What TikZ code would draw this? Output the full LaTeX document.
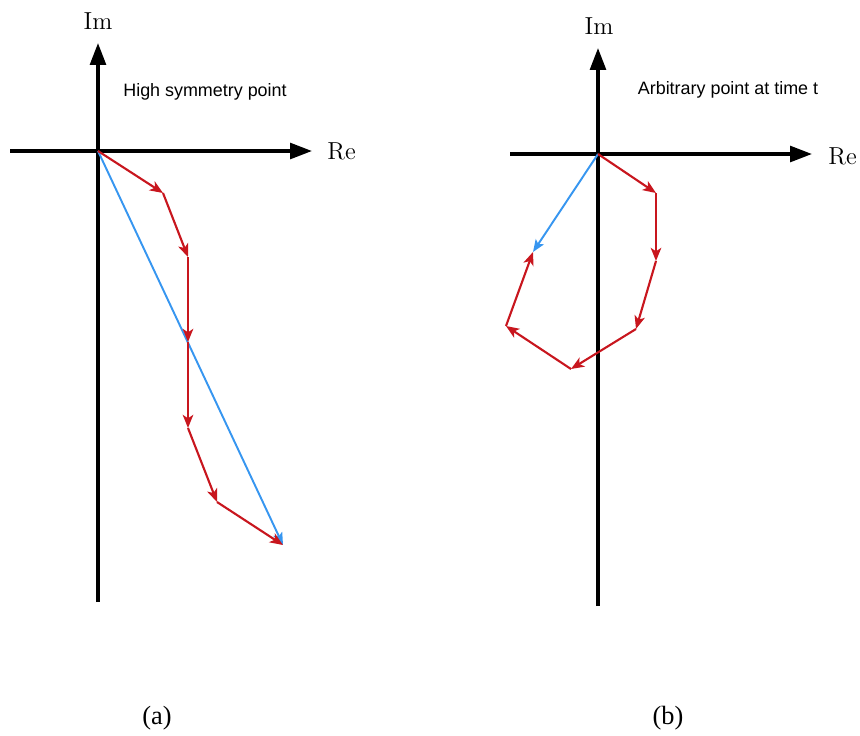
\documentclass[tikz,border=0pt]{standalone}
\usepackage{fontspec}
\newfontfamily\labelsans{Liberation Sans}
\newfontfamily\labelserif{Liberation Serif}
\usepackage{xcolor}
\usepackage{tikz}
\usetikzlibrary{arrows.meta, positioning}

\definecolor{vecred}{RGB}{200,22,30}
\definecolor{vecblue}{RGB}{55,150,240}

\begin{document}
\begin{tikzpicture}[x=0.02cm, y=-0.02cm,
    axis/.style={line width=1.9pt, -{Triangle[length=12.5pt, width=9pt]}},
    part/.style={draw=vecred, line width=1.2pt, -{Stealth[length=7.5pt, width=6pt, inset=2pt]}},
    total/.style={draw=vecblue, line width=1.1pt, -{Stealth[length=7pt, width=5.5pt, inset=1.5pt]}},
    axlabel/.style={inner sep=0pt, font=\fontsize{14pt}{17pt}\selectfont},
    caption/.style={font=\labelsans\fontsize{10.2pt}{12pt}\selectfont},
    sublabel/.style={font=\labelserif\fontsize{15pt}{18pt}\selectfont}
]
    \useasboundingbox (0,0) rectangle (860,735);

    % Panel (a)
    \coordinate (oa) at (98,151);
    \coordinate (axl) at (10,151);
    \coordinate (axr) at (312,151);
    \coordinate (ayb) at (98,602);
    \coordinate (ayt) at (98,43);
    \draw[axis] (axl) -- (axr);
    \draw[axis] (ayb) -- (ayt);
    \node[axlabel] (ima) at (98,21) {Im};
    \node[axlabel, anchor=west] (rea) at (327,151) {Re};
    \node[caption] (capa) at (205,92) {High symmetry point};

    \coordinate (a1) at (163,193);
    \coordinate (a2) at (188,257);
    \coordinate (a3) at (188,342);
    \coordinate (a4) at (188,428);
    \coordinate (a5) at (217,502);
    \coordinate (a6) at (283,545);
    \draw[total] (oa) -- (a6);
    \draw[part] (oa) -- (a1);
    \draw[part] (a1) -- (a2);
    \draw[part] (a2) -- (a3);
    \draw[part] (a3) -- (a4);
    \draw[part] (a4) -- (a5);
    \draw[part] (a5) -- (a6);

    % Panel (b)
    \coordinate (ob) at (598,154);
    \coordinate (bxl) at (510,154);
    \coordinate (bxr) at (812,154);
    \coordinate (byb) at (598,606);
    \coordinate (byt) at (598,48);
    \draw[axis] (bxl) -- (bxr);
    \draw[axis] (byb) -- (byt);
    \node[axlabel] (imb) at (599,26) {Im};
    \node[axlabel, anchor=west] (reb) at (828,156) {Re};
    \node[caption] (capb) at (728,90) {Arbitrary point at time t};

    \coordinate (b1) at (656,193);
    \coordinate (b2) at (656,261);
    \coordinate (b3) at (636,329);
    \coordinate (b4) at (571,369);
    \coordinate (b5) at (506,326);
    \coordinate (b6) at (533,252);
    \draw[total] (ob) -- (b6);
    \draw[part] (ob) -- (b1);
    \draw[part] (b1) -- (b2);
    \draw[part] (b2) -- (b3);
    \draw[part] (b3) -- (b4);
    \draw[part] (b4) -- (b5);
    \draw[part] (b5) -- (b6);

    % sub-figure labels
    \node[sublabel] (suba) at (157,718) {(a)};
    \node[sublabel] (subb) at (668,718) {(b)};
\end{tikzpicture}
\end{document}
